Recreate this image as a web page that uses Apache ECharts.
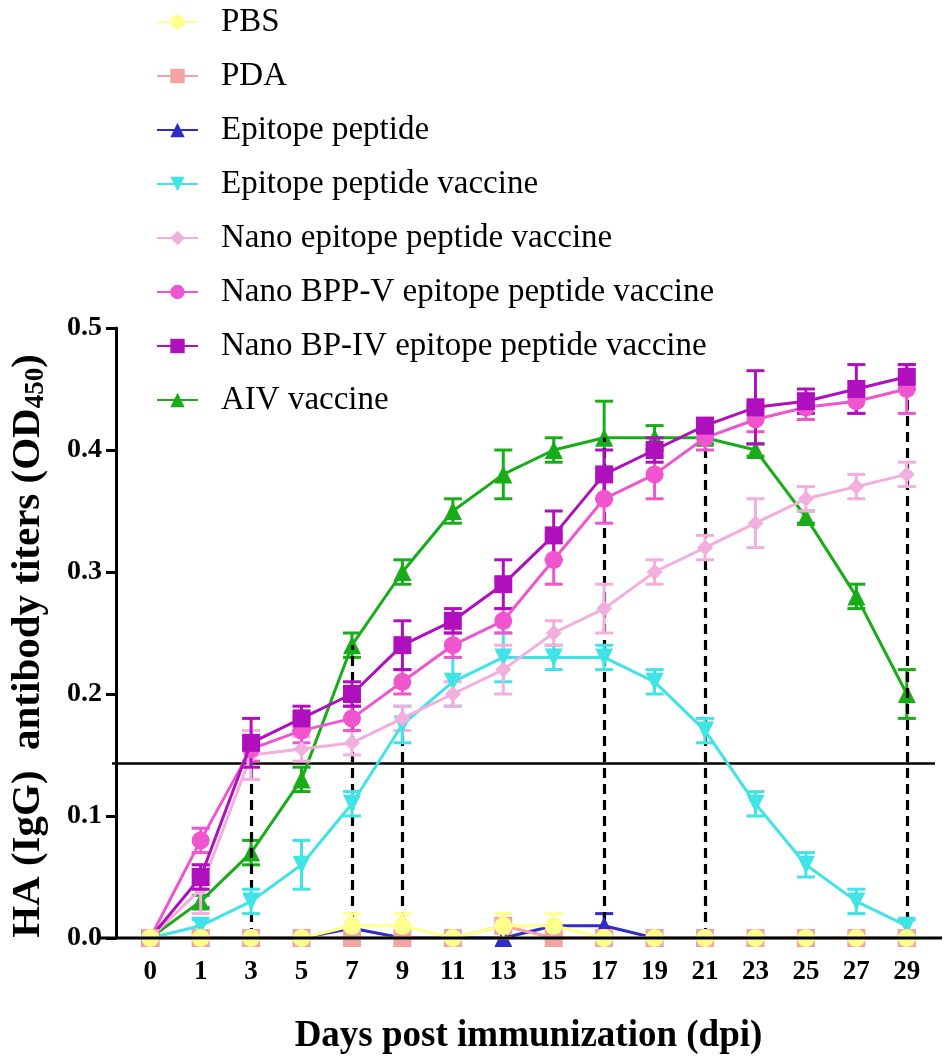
<!DOCTYPE html>
<html><head><meta charset="utf-8">
<script src="https://cdn.jsdelivr.net/npm/echarts@6/dist/echarts.min.js"></script>
<style>html,body{margin:0;padding:0;background:#fff}#c{width:945px;height:1061px}</style>
</head><body><div id="c"></div>
<script>
const days = ['0','1','3','5','7','9','11','13','15','17','19','21','23','25','27','29'];
const seriesNames = ['PBS','PDA','Epitope peptide','Epitope peptide vaccine','Nano epitope peptide vaccine','Nano BPP-V epitope peptide vaccine','Nano BP-IV epitope peptide vaccine','AIV vaccine'];
const pbs      = [0,0,0,0,0.01,0.01,0,0.01,0.01,0,0,0,0,0,0,0];
const pbsErr   = [0,0,0,0,0.01,0.01,0,0.01,0.01,0,0,0,0,0,0,0];
const pda      = [0,0,0,0,0,0,0,0.01,0,0,0,0,0,0,0,0];
const pdaErr   = [0,0,0,0,0,0,0,0,0,0,0,0,0,0,0,0];
const epi      = [0,0,0,0,0.008,0,0,0,0.01,0.01,0,0,0,0,0,0];
const epiErr   = [0,0,0,0,0,0,0,0,0,0.01,0,0,0,0,0,0];
const epiVac   = [0,0.01,0.03,0.06,0.11,0.175,0.21,0.23,0.23,0.23,0.21,0.17,0.11,0.06,0.03,0.01];
const epiVacErr= [0,0.005,0.01,0.02,0.01,0.015,0.02,0.02,0.01,0.01,0.01,0.01,0.01,0.01,0.01,0.005];
const nano     = [0,0.04,0.15,0.155,0.16,0.18,0.20,0.22,0.25,0.27,0.30,0.32,0.34,0.36,0.37,0.38];
const nanoErr  = [0,0.02,0.02,0.01,0.01,0.01,0.01,0.02,0.01,0.02,0.01,0.01,0.02,0.01,0.01,0.01];
const bppv     = [0,0.08,0.155,0.17,0.18,0.21,0.24,0.26,0.31,0.36,0.38,0.41,0.425,0.435,0.44,0.45];
const bppvErr  = [0,0.01,0.01,0.01,0.01,0.01,0.01,0.01,0.02,0.02,0.02,0.01,0.01,0.01,0.01,0.02];
const bpiv     = [0,0.05,0.16,0.18,0.20,0.24,0.26,0.29,0.33,0.38,0.40,0.42,0.435,0.44,0.45,0.46];
const bpivErr  = [0,0.01,0.02,0.01,0.01,0.02,0.01,0.02,0.02,0.02,0.01,0.005,0.03,0.01,0.02,0.01];
const aiv      = [0,0.03,0.07,0.13,0.24,0.30,0.35,0.38,0.40,0.41,0.41,0.41,0.40,0.345,0.28,0.20];
const aivErr   = [0,0.005,0.01,0.01,0.01,0.01,0.01,0.02,0.01,0.03,0.01,0.005,0.005,0.005,0.01,0.02];
const threshold = 0.143;
const dashedDays = ['3','7','9','17','21','29'];
const dashedTops = [0.155,0.24,0.175,0.41,0.41,0.46];
const yTicks = [0,0.1,0.2,0.3,0.4,0.5];

const colors = ['#FFFF8C','#F4A3A3','#2E2EC4','#40E3E6','#F2AEDD','#EE55CF','#B00FBE','#18AD18'];
const symbols = ['circle','rect','triangle','path://M0,0 L10,0 L5,9 Z','diamond','circle','rect','triangle'];
const vals = [pbs,pda,epi,epiVac,nano,bppv,bpiv,aiv];
const errs = [pbsErr,pdaErr,epiErr,epiVacErr,nanoErr,bppvErr,bpivErr,aivErr];
const zs = [9,8,3,4,5,6,7,2];
const SERIF = 'Liberation Serif';

const chart = echarts.init(document.getElementById('c'));
const series = [];
seriesNames.forEach((n,k)=>{
  series.push({
    name:n, type:'line', data:vals[k], symbol:symbols[k], symbolSize:k===4?16:18,
    lineStyle:{color:colors[k],width:3}, itemStyle:{color:colors[k]}, z:zs[k]+2,
    animation:false
  });
  series.push({
    type:'custom', name:n+'_err', z:zs[k]+1, silent:true, animation:false,
    data: vals[k].map((v,i)=>[i, v-errs[k][i], v+errs[k][i]]).filter((d,i)=>errs[k][i]>0),
    encode:{x:0,y:[1,2]},
    renderItem:(params,api)=>{
      const x = api.value(0);
      const lo = api.coord([x, api.value(1)]);
      const hi = api.coord([x, api.value(2)]);
      const w = 9;
      const st = {stroke:colors[k], lineWidth:3};
      return {type:'group', children:[
        {type:'line', shape:{x1:lo[0],y1:lo[1],x2:hi[0],y2:hi[1]}, style:st},
        {type:'line', shape:{x1:lo[0]-w,y1:lo[1],x2:lo[0]+w,y2:lo[1]}, style:st},
        {type:'line', shape:{x1:hi[0]-w,y1:hi[1],x2:hi[0]+w,y2:hi[1]}, style:st}
      ]};
    }
  });
});
// dashed reference lines
series.push({
  type:'line', data:[], silent:true, animation:false, z:1,
  markLine:{
    symbol:['none','none'], silent:true, label:{show:false}, animation:false,
    lineStyle:{color:'#000',type:[10,6],width:3.2},
    data: dashedDays.map((d,i)=>[{coord:[d,0]},{coord:[d,dashedTops[i]]}])
  }
});

chart.setOption({
  backgroundColor:'#fff',
  animation:false,
  grid:{left:121,right:13,top:328,bottom:123},
  legend:{
    data:seriesNames, orient:'vertical', left:151, top:-1, itemGap:18,
    itemWidth:41, itemHeight:18,
    textStyle:{fontFamily:SERIF,fontSize:33,color:'#000',lineHeight:36,padding:[0,0,0,18]}
  },
  xAxis:{
    type:'category', data:days, boundaryGap:true,
    name:'Days post immunization (dpi)', nameLocation:'middle', nameGap:80,
    nameTextStyle:{fontFamily:SERIF,fontWeight:'bold',fontSize:37,color:'#000'},
    axisLine:{show:false},
    axisTick:{alignWithLabel:true,length:8,lineStyle:{color:'#000',width:3}},
    axisLabel:{fontFamily:SERIF,fontWeight:'bold',fontSize:27,color:'#000',margin:21}
  },
  yAxis:{
    type:'value', min:yTicks[0], max:yTicks[yTicks.length-1], interval:0.1, offset:9,
    name:'HA (IgG)  antibody titers (OD{sub|450})', nameLocation:'middle', nameGap:66,
    nameTextStyle:{fontFamily:SERIF,fontWeight:'bold',fontSize:41,color:'#000',padding:[0,26,0,0],
      rich:{sub:{fontFamily:SERIF,fontWeight:'bold',fontSize:27,color:'#000',verticalAlign:'bottom',padding:[16,0,0,0]}}},
    axisLine:{show:true,lineStyle:{color:'#000',width:3}},
    axisTick:{show:true,length:10,lineStyle:{color:'#000',width:3}},
    splitLine:{show:false},
    axisLabel:{fontFamily:SERIF,fontWeight:'bold',fontSize:28,color:'#000',margin:14,
      formatter:v=>v.toFixed(1)}
  },
  series:series
});

// axis baseline (extends beyond the plot like the original) and threshold line
const y0 = chart.convertToPixel({yAxisIndex:0}, 0);
const yT = chart.convertToPixel({yAxisIndex:0}, threshold);
chart.setOption({
  graphic:[
    {type:'line', z:20, shape:{x1:100,y1:y0,x2:942,y2:y0}, style:{stroke:'#000',lineWidth:3}},
    {type:'line', z:1, shape:{x1:112,y1:yT,x2:935,y2:yT}, style:{stroke:'#000',lineWidth:2.5}}
  ]
});
</script></body></html>
